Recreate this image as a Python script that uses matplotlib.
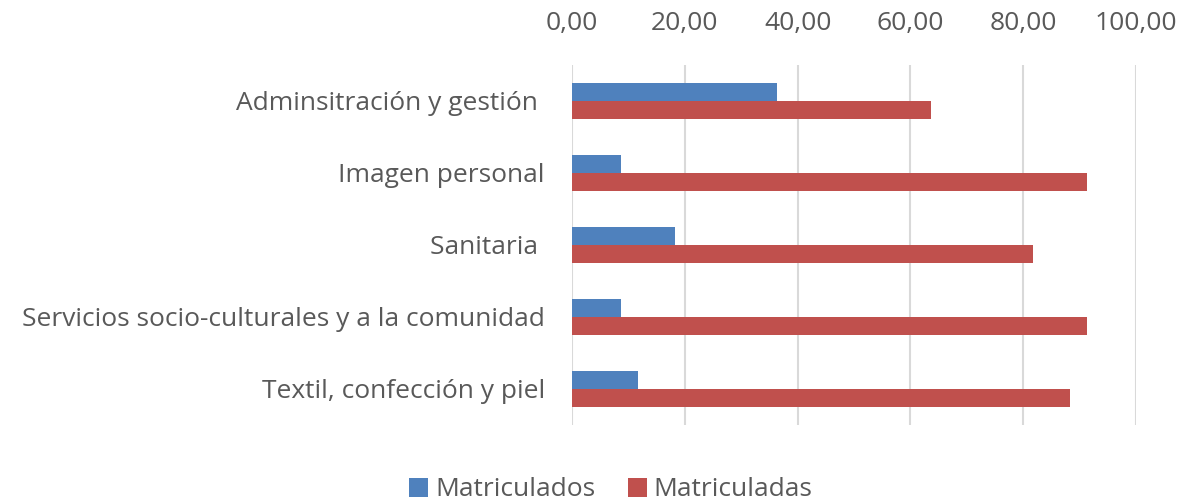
import numpy as np
import matplotlib.pyplot as plt

# Datos (porcentajes)
categorias = ['Adminsitración y gestión ', 'Imagen personal', 'Sanitaria ',
              'Servicios socio-culturales y a la comunidad', 'Textil, confección y piel']
matriculados = [36.3, 8.7, 18.2, 8.7, 11.7]
matriculadas = [63.7, 91.3, 81.8, 91.3, 88.3]
ticks = [0, 20, 40, 60, 80, 100]

plt.rcParams['font.family'] = ['Open Sans', 'DejaVu Sans']
fs = 19

fig = plt.figure(figsize=(11.83, 5.03), dpi=100)
ax = fig.add_axes([572 / 1183, 1 - 425 / 503, (1136 - 572) / 1183, 360 / 503])

y = np.arange(len(categorias))
h = 0.25
ax.barh(y - h / 2, matriculados, height=h, color='#4F81BD', label='Matriculados', zorder=3)
ax.barh(y + h / 2, matriculadas, height=h, color='#C0504D', label='Matriculadas', zorder=3)

ax.set_xlim(0, 100)
ax.set_ylim(len(categorias) - 0.5, -0.5)
ax.set_xticks(ticks)
ax.set_xticklabels([f'{t:.2f}'.replace('.', ',') for t in ticks])
ax.set_yticks(y)
ax.set_yticklabels(categorias)
ax.xaxis.tick_top()
ax.tick_params(axis='x', length=0, pad=21, labelsize=fs, colors='#595959')
ax.tick_params(axis='y', length=0, pad=19.5, labelsize=fs, colors='#595959')
ax.grid(axis='x', color='#d9d9d9', linewidth=1.5, zorder=0)
for s in ax.spines.values():
    s.set_visible(False)

fig.legend(loc='center', bbox_to_anchor=(611 / 1183, 1 - 490 / 503), ncol=2, frameon=False,
           fontsize=fs, handlelength=0.7, handleheight=0.7, handletextpad=0.27,
           columnspacing=1.25, labelcolor='#595959')

fig.savefig('out.png', dpi=100, facecolor='white')
